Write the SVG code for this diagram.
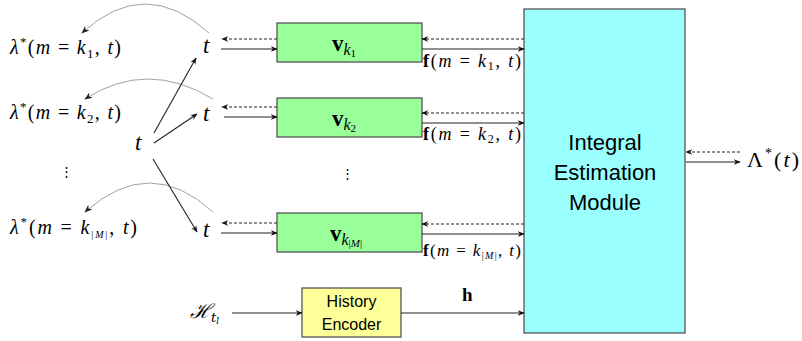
<svg xmlns="http://www.w3.org/2000/svg" width="802" height="341" viewBox="0 0 802 341">
<defs>
<marker id="ah" viewBox="0 0 10 10" refX="9" refY="5" markerWidth="7" markerHeight="7" orient="auto-start-reverse" markerUnits="userSpaceOnUse">
<path d="M0,1 L10,5 L0,9 L3,5 z" fill="#111"/>
</marker>
<marker id="ahg" viewBox="0 0 10 10" refX="9" refY="5" markerWidth="8" markerHeight="8" orient="auto" markerUnits="userSpaceOnUse">
<path d="M0,1 L10,5 L0,9 L3,5 z" fill="#222"/>
</marker>
</defs>
<style>
.m{font-family:"Liberation Serif","DejaVu Serif",serif;fill:#000}
.mi{font-style:italic}
.bx{stroke:#555;stroke-width:1.3}
.s{fill:none;stroke:#222;stroke-width:1.1}
.d{fill:none;stroke:#222;stroke-width:1.1;stroke-dasharray:3 2}
.arc{fill:none;stroke:#888;stroke-width:0.8}
.sans{font-family:"Liberation Sans",Arial,sans-serif;fill:#000;text-anchor:middle}
</style>
<rect width="802" height="341" fill="#fff"/>

<g id="integral">
<rect class="bx" x="524" y="9" width="161" height="324" fill="#99ffff"/>
<text class="sans" font-size="22" x="605" y="150">Integral</text>
<text class="sans" font-size="22" x="605" y="180">Estimation</text>
<text class="sans" font-size="22" x="605" y="210">Module</text>
</g>

<g id="vk1">
<rect class="bx" x="277" y="23" width="145" height="39" fill="#99ff99"/>
<text class="m" x="332" y="51" font-size="23"><tspan font-weight="bold">v</tspan><tspan class="mi" font-size="16" dy="4">k</tspan><tspan font-size="11" dy="2">1</tspan></text>
</g>
<g id="vk2">
<rect class="bx" x="277" y="98" width="145" height="39" fill="#99ff99"/>
<text class="m" x="332" y="126" font-size="23"><tspan font-weight="bold">v</tspan><tspan class="mi" font-size="16" dy="4">k</tspan><tspan font-size="11" dy="2">2</tspan></text>
</g>
<g id="vkM">
<rect class="bx" x="277" y="213" width="145" height="39" fill="#99ff99"/>
<text class="m" x="330" y="241" font-size="23"><tspan font-weight="bold">v</tspan><tspan class="mi" font-size="16" dy="4">k</tspan><tspan font-size="11" dy="2">|</tspan><tspan font-size="11" class="mi">M</tspan><tspan font-size="11">|</tspan></text>
</g>

<g id="history">
<rect class="bx" x="302" y="288" width="99" height="49" fill="#ffff99"/>
<text class="sans" font-size="16" x="351.5" y="307">History</text>
<text class="sans" font-size="16" x="351.5" y="330">Encoder</text>
</g>

<g id="labels">
<text class="m" x="10" y="54" font-size="20" textLength="111" lengthAdjust="spacing"><tspan class="mi">λ</tspan><tspan font-size="13" dy="-8">*</tspan><tspan dy="8">(</tspan><tspan class="mi">m</tspan> = <tspan class="mi">k</tspan><tspan font-size="13" dy="4">1</tspan><tspan dy="-4">, </tspan><tspan class="mi">t</tspan>)</text>
<text class="m" x="10" y="119" font-size="20" textLength="111" lengthAdjust="spacing"><tspan class="mi">λ</tspan><tspan font-size="13" dy="-8">*</tspan><tspan dy="8">(</tspan><tspan class="mi">m</tspan> = <tspan class="mi">k</tspan><tspan font-size="13" dy="4">2</tspan><tspan dy="-4">, </tspan><tspan class="mi">t</tspan>)</text>
<text class="m" x="10" y="234" font-size="20" textLength="127" lengthAdjust="spacing"><tspan class="mi">λ</tspan><tspan font-size="13" dy="-8">*</tspan><tspan dy="8">(</tspan><tspan class="mi">m</tspan> = <tspan class="mi">k</tspan><tspan font-size="10" dy="4">|</tspan><tspan font-size="10" class="mi">M</tspan><tspan font-size="10">|</tspan><tspan dy="-4">, </tspan><tspan class="mi">t</tspan>)</text>
<text class="m" x="60" y="176" font-size="13">⋮</text>
<text class="m" x="341" y="178" font-size="13">⋮</text>
<text class="m mi" x="135" y="150" font-size="23">t</text>
<text class="m mi" x="203" y="53" font-size="23">t</text>
<text class="m mi" x="203" y="121" font-size="23">t</text>
<text class="m mi" x="203" y="237" font-size="23">t</text>
<text class="m" x="423" y="67" font-size="18" textLength="98" lengthAdjust="spacing"><tspan font-weight="bold">f</tspan>(<tspan class="mi">m</tspan> = <tspan class="mi">k</tspan><tspan font-size="12" dy="3">1</tspan><tspan dy="-3">, </tspan><tspan class="mi">t</tspan>)</text>
<text class="m" x="423" y="140" font-size="18" textLength="98" lengthAdjust="spacing"><tspan font-weight="bold">f</tspan>(<tspan class="mi">m</tspan> = <tspan class="mi">k</tspan><tspan font-size="12" dy="3">2</tspan><tspan dy="-3">, </tspan><tspan class="mi">t</tspan>)</text>
<text class="m" x="423" y="256" font-size="17" textLength="98" lengthAdjust="spacing"><tspan font-weight="bold">f</tspan>(<tspan class="mi">m</tspan> = <tspan class="mi">k</tspan><tspan font-size="10" dy="3">|</tspan><tspan font-size="10" class="mi">M</tspan><tspan font-size="10">|</tspan><tspan dy="-3">, </tspan><tspan class="mi">t</tspan>)</text>
<text class="m" x="747" y="167" font-size="22" textLength="52" lengthAdjust="spacing">Λ<tspan font-size="14" dy="-9">*</tspan><tspan dy="9">(</tspan><tspan class="mi">t</tspan>)</text>
<text class="m" x="462" y="301" font-weight="bold" font-size="19">h</text>
<text x="190" y="318" font-family="'DejaVu Serif','Liberation Serif',serif" font-style="italic" font-size="20">ℋ<tspan font-size="13" dy="4">t</tspan><tspan font-size="9" dy="2">l</tspan></text>
</g>

<g id="connectors">
<path class="arc" d="M209,33 Q145,-25 82,33" marker-end="url(#ahg)"/>
<path class="arc" d="M213,99 Q147,59 85,99" marker-end="url(#ahg)"/>
<path class="arc" d="M213,212 Q150,154 85,212" marker-end="url(#ahg)"/>
<line class="s" x1="154" y1="133" x2="196" y2="58" marker-end="url(#ah)"/>
<line class="s" x1="154" y1="143" x2="197" y2="114" marker-end="url(#ah)"/>
<line class="s" x1="153" y1="159" x2="197" y2="232" marker-end="url(#ah)"/>

<line class="d" x1="277" y1="39" x2="222" y2="39" marker-end="url(#ah)"/>
<line class="s" x1="221" y1="49" x2="277" y2="49" marker-end="url(#ah)"/>
<line class="d" x1="277" y1="107" x2="222" y2="107" marker-end="url(#ah)"/>
<line class="s" x1="224" y1="117" x2="277" y2="117" marker-end="url(#ah)"/>
<line class="d" x1="277" y1="223" x2="222" y2="223" marker-end="url(#ah)"/>
<line class="s" x1="221" y1="233" x2="277" y2="233" marker-end="url(#ah)"/>

<line class="d" x1="524" y1="39" x2="422" y2="39" marker-end="url(#ah)"/>
<line class="s" x1="422" y1="49" x2="524" y2="49" marker-end="url(#ah)"/>
<line class="d" x1="524" y1="113" x2="422" y2="113" marker-end="url(#ah)"/>
<line class="s" x1="422" y1="123" x2="524" y2="123" marker-end="url(#ah)"/>
<line class="d" x1="524" y1="224" x2="422" y2="224" marker-end="url(#ah)"/>
<line class="s" x1="422" y1="234" x2="524" y2="234" marker-end="url(#ah)"/>

<line class="d" x1="740" y1="152" x2="686" y2="152" marker-end="url(#ah)"/>
<line class="s" x1="686" y1="162" x2="740" y2="162" marker-end="url(#ah)"/>

<line class="s" x1="232" y1="313" x2="302" y2="313" marker-end="url(#ah)"/>
<line class="s" x1="401" y1="313" x2="524" y2="313" marker-end="url(#ah)"/>
</g>
</svg>
